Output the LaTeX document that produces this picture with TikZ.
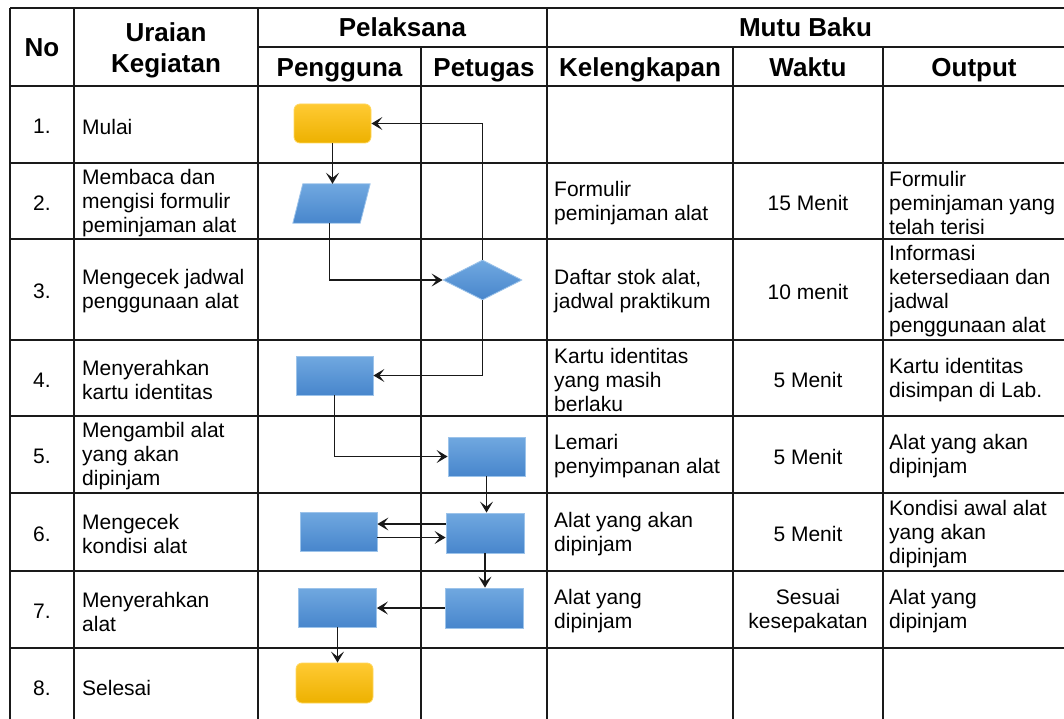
\documentclass[tikz,border=0pt]{standalone}
\usepackage{fontspec}
\setmainfont{Liberation Sans}
\usetikzlibrary{shapes.geometric,arrows.meta,calc}
\definecolor{gridc}{HTML}{1A1A1A}
\definecolor{proctop}{HTML}{70A8E0}
\definecolor{procbot}{HTML}{4886CC}
\definecolor{procedge}{HTML}{9CC3EA}
\definecolor{termtop}{HTML}{FFCA33}
\definecolor{termbot}{HTML}{EDB100}
\definecolor{termedge}{HTML}{FFD75E}
\begin{document}
\begin{tikzpicture}[x=1pt,y=-1pt,
  gridline/.style={draw=gridc,line width=1.8pt},
  hdr/.style={font=\fontsize{26}{31}\selectfont\bfseries,align=center,inner sep=0,anchor=base},
  txt/.style={font=\fontsize{21}{24}\selectfont,align=left,anchor=west,inner sep=0,yshift=-2pt},
  ctr/.style={font=\fontsize{21}{24}\selectfont,align=center,inner sep=0,yshift=-2pt},
  term/.style={rectangle,rounded corners=6pt,minimum width=77pt,minimum height=39pt,top color=termtop,bottom color=termbot,draw=termedge,line width=0.8pt,inner sep=0},
  proc/.style={rectangle,minimum width=77pt,minimum height=39pt,top color=proctop,bottom color=procbot,draw=procedge,line width=0.8pt,inner sep=0},
  ioshade/.style={top color=proctop,bottom color=procbot,draw=procedge,line width=0.8pt},
  decis/.style={diamond,aspect=2,minimum width=79pt,minimum height=40pt,top color=proctop,bottom color=procbot,draw=procedge,line width=0.8pt,inner sep=0},
  arr/.style={draw=black!90,line width=1.4pt,-{Stealth[length=11pt,width=13pt,inset=5pt]}}
]
\useasboundingbox (0,0) rectangle (1064,719);
\clip (0,0) rectangle (1064,719);

% grid
\foreach \yy in {8,86,163,239,340,416,493,571,648} {\draw[gridline] (10,\yy) -- (1070,\yy);}
\draw[gridline] (258,47) -- (1070,47);
\foreach \xx in {10,74,258,547} {\draw[gridline] (\xx,8) -- (\xx,730);}
\foreach \xx in {421,733,883} {\draw[gridline] (\xx,47) -- (\xx,730);}

% header
\node[hdr] (hno) at (42,57) {No};
\node[hdr] (hur) at (166,72.5) {Uraian\\Kegiatan};
\node[hdr] (hpel) at (402.5,37) {Pelaksana};
\node[hdr] (hpg) at (339.5,76.5) {Pengguna};
\node[hdr] (hpt) at (484,76.5) {Petugas};
\node[hdr] (hmb) at (805.5,37) {Mutu Baku};
\node[hdr] (hkl) at (640,76.5) {Kelengkapan};
\node[hdr] (hwk) at (808,76.5) {Waktu};
\node[hdr] (hout) at (974,76.5) {Output};

% numbers
\node[ctr] (n1) at (42,124.5) {1.};
\node[ctr] (n2) at (42,201) {2.};
\node[ctr] (n3) at (42,289.5) {3.};
\node[ctr] (n4) at (42,378) {4.};
\node[ctr] (n5) at (42,454.5) {5.};
\node[ctr] (n6) at (42,532) {6.};
\node[ctr] (n7) at (42,609.5) {7.};
\node[ctr] (n8) at (42,686) {8.};

% activities
\node[txt] (u1) at (82,124.5) {Mulai};
\node[txt] (u2) at (82,201) {Membaca dan\\mengisi formulir\\peminjaman alat};
\node[txt] (u3) at (82,289.5) {Mengecek jadwal\\penggunaan alat};
\node[txt] (u4) at (82,378) {Menyerahkan\\kartu identitas};
\node[txt] (u5) at (82,454.5) {Mengambil alat\\yang akan\\dipinjam};
\node[txt] (u6) at (82,532) {Mengecek\\kondisi alat};
\node[txt] (u7) at (82,609.5) {Menyerahkan\\alat};
\node[txt] (u8) at (82,686) {Selesai};

% kelengkapan
\node[txt] (k2) at (554,201) {Formulir\\peminjaman alat};
\node[txt] (k3) at (554,289.5) {Daftar stok alat,\\jadwal praktikum};
\node[txt] (k4) at (554,378) {Kartu identitas\\yang masih\\berlaku};
\node[txt] (k5) at (554,454.5) {Lemari\\penyimpanan alat};
\node[txt] (k6) at (554,532) {Alat yang akan\\dipinjam};
\node[txt] (k7) at (554,609.5) {Alat yang\\dipinjam};

% waktu
\node[ctr] (w2) at (808,201) {15 Menit};
\node[ctr] (w3) at (808,289.5) {10 menit};
\node[ctr] (w4) at (808,378) {5 Menit};
\node[ctr] (w5) at (808,454.5) {5 Menit};
\node[ctr] (w6) at (808,532) {5 Menit};
\node[ctr] (w7) at (808,609.5) {Sesuai\\kesepakatan};

% output
\node[txt] (o2) at (889,201) {Formulir\\peminjaman yang\\telah terisi};
\node[txt] (o3) at (889,289.5) {Informasi\\ketersediaan dan\\jadwal\\penggunaan alat};
\node[txt] (o4) at (889,378) {Kartu identitas\\disimpan di Lab.};
\node[txt] (o5) at (889,454.5) {Alat yang akan\\dipinjam};
\node[txt] (o6) at (889,532) {Kondisi awal alat\\yang akan\\dipinjam};
\node[txt] (o7) at (889,609.5) {Alat yang\\dipinjam};

% flow shapes
\node[term] (start) at (332.5,123.5) {};
\node[rectangle,inner sep=0,minimum width=67pt,minimum height=39pt] (par) at (331.5,203.5) {};
\shade[ioshade] ([xshift=-5pt]par.south west) -- ([xshift=-5pt]par.south east)
  -- ([xshift=5pt]par.north east) -- ([xshift=5pt]par.north west) -- cycle;
\node[decis] (dia) at (482.5,280) {};
\node[proc] (r4) at (334.5,375.5) {};
\node[proc] (r5) at (486.5,456.5) {};
\node[proc,minimum width=78pt,minimum height=40pt] (r6r) at (485,533) {};
\node[proc] (r6l) at (338.5,531.5) {};
\node[proc,minimum width=78pt,minimum height=40pt] (r7r) at (484,608) {};
\node[proc,minimum width=78pt] (r7l) at (337.5,607.5) {};
\node[term,minimum height=40pt] (end) at (334.5,683) {};

% connectors
\draw[arr] (start.south) -- (start.south |- par.north);
\draw[arr] ([xshift=-2pt]par.south) |- (dia.west);
\draw[arr] (dia.north) |- (start.east);
\draw[arr] (dia.south) |- (r4.east);
\draw[arr] (r4.south) |- (r5.west);
\draw[arr] (r5.south) -- (r5.south |- r6r.north);
\coordinate (c6a) at ([yshift=9pt]r6r.west);
\coordinate (c6b) at ([yshift=-6pt]r6l.east);
\draw[arr] (c6a) -- (c6a -| r6l.east);
\draw[arr] (c6b) -- (c6b -| r6r.west);
\draw[arr] (r6r.south) -- (r6r.south |- r7r.north);
\draw[arr] (r7r.west) -- (r7r.west -| r7l.east);
\draw[arr] (r7l.south) -- (r7l.south |- end.north);
\end{tikzpicture}
\end{document}
